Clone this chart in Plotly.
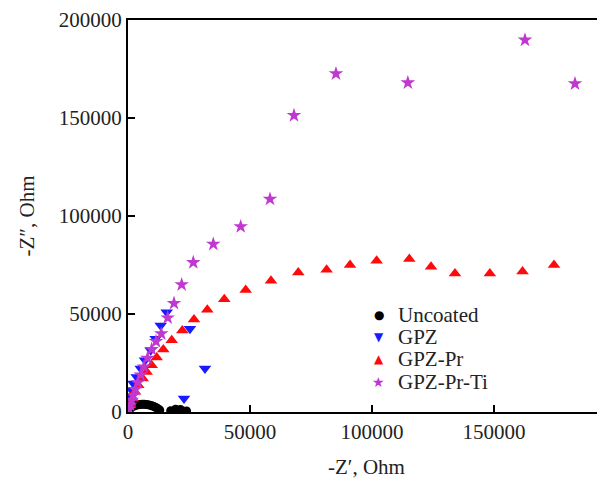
import plotly.graph_objects as go

# Uncoated
unc_x = [300, 800, 1400, 2000, 2700, 3400, 4200, 5000, 5800, 6600, 7400, 8200, 9000, 9800, 10600, 11400, 12200, 13000,
         17500, 19500, 21500, 24000]
unc_y = [900, 1700, 2300, 2800, 3200, 3500, 3700, 3850, 3900, 3900, 3850, 3700, 3500, 3200, 2800, 2300, 1700, 1000,
         700, 1400, 1300, 500]

# GPZ
gpz_x = [200, 410, 820, 1430, 2170, 3570, 5200, 6970, 9300, 11350, 13400, 15860, 25400, 31550, 22950]
gpz_y = [2540, 5080, 8120, 11170, 14570, 17920, 22180, 26400, 31470, 37410, 44160, 50910, 42490, 22180, 6950]

# GPZ-Pr
pr_x = [820, 1930, 2870, 4220, 6020, 7660, 9710, 11760, 14470, 17910, 22250, 27050, 32500, 39460, 48230, 58600,
        69800, 81400, 91000, 101900, 115300, 124200, 134000, 148300, 161700, 174600]
pr_y = [3550, 6950, 10300, 13700, 17110, 20460, 23860, 27770, 31830, 36550, 41620, 47210, 52180, 57510, 62280, 67000,
        71220, 72600, 75000, 77150, 78020, 74110, 70710, 70710, 71720, 74970]

# GPZ-Pr-Ti
ti_x = [400, 900, 1500, 2200, 3000, 4000, 5200, 6500, 8000, 9700, 11500, 13650, 16270, 18850, 22000, 26760, 34960,
        46190, 58190, 68030, 85240, 114700, 162700, 183200]
ti_y = [1500, 3500, 6000, 8500, 11500, 15000, 19000, 23000, 27500, 32000, 36000, 39950, 48070, 55480, 64970, 76290,
        85630, 94570, 108600, 151300, 172600, 168000, 189800, 167500]

x_ticks = [0, 50000, 100000, 150000]
y_ticks = [0, 50000, 100000, 150000, 200000]

series_names = ["Uncoated", "GPZ", "GPZ-Pr", "GPZ-Pr-Ti"]
series_colors = ["#000000", "#1a1aff", "#ff0a0a", "#c038d0"]
series_symbols = ["circle", "triangle-down", "triangle-up", "star"]
legend_glyphs = ["●", "▼", "▲", "★"]
glyph_sizes = [12, 12, 12, 14]

FONT = "Liberation Serif, Times New Roman, serif"

fig = go.Figure()
for name, xs, ys, col, sym, sz in zip(series_names, [unc_x, gpz_x, pr_x, ti_x], [unc_y, gpz_y, pr_y, ti_y],
                                      series_colors, series_symbols, [9, 11, 11, 11]):
    fig.add_trace(go.Scatter(x=xs, y=ys, mode="markers", name=name,
                             marker=dict(symbol=sym, size=sz, color=col)))

# compact legend drawn as annotations (reference legend rows are tightly spaced)
row_y = [0.2487, 0.1916, 0.1345, 0.0774]
annotations = []
for name, col, g, gs, yy in zip(series_names, series_colors, legend_glyphs, glyph_sizes, row_y):
    annotations.append(dict(xref="paper", yref="paper", x=0.526, y=yy, xanchor="center", yanchor="middle",
                            text=g, showarrow=False, borderpad=0,
                            font=dict(family="DejaVu Sans", size=gs, color=col)))
    annotations.append(dict(xref="paper", yref="paper", x=0.564, y=yy, xanchor="left", yanchor="middle",
                            text=name, showarrow=False, borderpad=0,
                            font=dict(family=FONT, size=21, color="#222222")))

fig.update_layout(
    width=597, height=473,
    margin=dict(l=120, r=0, t=10, b=69),
    paper_bgcolor="white", plot_bgcolor="white",
    font=dict(family=FONT, size=21, color="#222222"),
    showlegend=False,
    annotations=annotations,
)
fig.update_xaxes(range=[0, 195500], tickvals=x_ticks, ticktext=[str(v) for v in x_ticks],
                 showgrid=False, zeroline=False, showline=True, linecolor="black", linewidth=2,
                 mirror=True, ticks="inside", ticklen=7, tickwidth=1.5, tickcolor="black",
                 ticklabeloverflow="allow",
                 title=dict(text="-Z′, Ohm", standoff=16, font=dict(family=FONT, size=21)))
fig.update_yaxes(range=[0, 200000], tickvals=y_ticks, ticktext=[str(v) for v in y_ticks],
                 showgrid=False, zeroline=False, showline=True, linecolor="black", linewidth=2,
                 mirror=False, ticks="inside", ticklen=7, tickwidth=1.5, tickcolor="black",
                 ticklabeloverflow="allow",
                 title=dict(text="-Z″, Ohm", standoff=18, font=dict(family=FONT, size=21)))

fig.write_html("out.html")
